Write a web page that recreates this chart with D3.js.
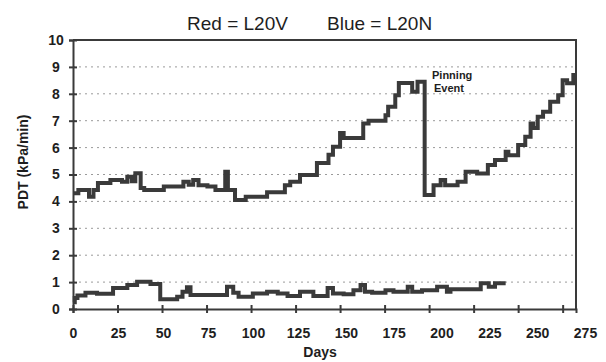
<!DOCTYPE html>
<html>
<head>
<meta charset="utf-8">
<style>
  body { margin: 0; background: #fff; }
  svg text { font-family: "Liberation Sans", Arial, sans-serif; fill: #1e1e1e; }
</style>
</head>
<body>
<svg id="chart" width="606" height="362"></svg>

<script src="https://d3js.org/d3.v7.min.js"></script>
<script>
// upper trace (L20V): day where each step starts, PDT in kPa/min
var l20vDays = [0, 3, 9, 11.5, 14, 21, 27.5, 30.5, 33, 35, 38, 40, 51, 62, 65, 67.5, 70.5, 75.5, 80, 85.5,
  87, 91, 97, 109, 119, 122, 127.5, 137, 143.5, 146, 150, 152, 163, 166, 175.5, 177, 181, 183, 190.5, 193.5,
  197.5, 202.5, 206.5, 209, 216, 220.5, 227, 233, 237, 243, 244.5, 250, 254, 257, 258.5, 261, 264, 268,
  272.5, 275, 277.5, 281, 282.5];
var l20vPdt = [4.3, 4.42, 4.17, 4.42, 4.68, 4.8, 4.73, 4.92, 4.75, 5.05, 4.5, 4.42, 4.55, 4.73, 4.62, 4.8, 4.6, 4.55, 4.42, 5.1,
  4.42, 4.05, 4.17, 4.34, 4.6, 4.73, 4.98, 5.43, 5.73, 6.03, 6.54, 6.36, 6.9, 7.0, 7.2, 7.52, 7.95, 8.4, 8.08, 8.45,
  4.24, 4.6, 4.8, 4.6, 4.73, 5.1, 5.04, 5.35, 5.54, 5.85, 5.72, 6.1, 6.4, 6.9, 6.73, 7.15, 7.33, 7.7,
  7.95, 8.5, 8.39, 8.7, 8.7];

// lower trace (L20N)
var l20nDays = [0, 1, 2.5, 7, 13.5, 22.5, 30.5, 36, 43.5, 49, 58.5, 61.5, 64, 66, 86.5, 90, 93, 101, 109, 115,
  120.5, 127.5, 135, 143, 146, 152, 157.5, 161.5, 164, 168, 175.5, 180, 188, 190.5, 196, 204.5, 210, 212,
  229, 233.5, 237, 243];
var l20nPdt = [0.25, 0.41, 0.5, 0.6, 0.57, 0.78, 0.89, 1.01, 0.93, 0.36, 0.46, 0.64, 0.81, 0.52, 0.83, 0.6, 0.46, 0.58, 0.64, 0.58,
  0.48, 0.64, 0.48, 0.78, 0.58, 0.55, 0.7, 0.89, 0.64, 0.6, 0.7, 0.64, 0.83, 0.64, 0.7, 0.83, 0.64, 0.73,
  0.96, 0.83, 0.96, 0.96];

var dayTicks = [0, 25, 50, 75, 100, 125, 150, 175, 200, 225, 250, 275];
var pdtTicks = [0, 1, 2, 3, 4, 5, 6, 7, 8, 9, 10];
var gridLevels = [1, 2, 3, 4, 5, 6, 7, 8, 9];

var svg = d3.select("#chart");
var ink = "#3a3a3a";

var x = d3.scaleLinear().domain([0, 282.5]).range([73, 576]);
var y = d3.scaleLinear().domain([0, 10]).range([309, 40]);
// the day labels on the scan drift right of their tick marks
var xLabel = d3.scaleLinear().domain([0, 125, 275]).range([73, 298, 585]);

// dotted grid
svg.append("g")
    .selectAll("line")
    .data(gridLevels)
    .join("line")
    .attr("x1", x(0))
    .attr("x2", x(282.5))
    .attr("y1", d => y(d))
    .attr("y2", d => y(d))
    .attr("stroke", "#9a9a9a")
    .attr("stroke-width", 1)
    .attr("stroke-dasharray", "2,4");

// frame top and right
svg.append("path")
    .attr("d", "M" + x(0) + "," + y(10) + "H" + x(282.5) + "V" + y(0))
    .attr("fill", "none")
    .attr("stroke", ink)
    .attr("stroke-width", 2);

// y axis
var yAxis = svg.append("g")
    .attr("transform", "translate(" + x(0) + ",0)")
    .call(d3.axisLeft(y).tickValues(pdtTicks).tickSizeOuter(0).tickSize(4));
yAxis.select(".domain").attr("stroke", ink).attr("stroke-width", 2);
yAxis.selectAll(".tick line").attr("x1", 4).attr("x2", -4).attr("stroke", ink).attr("stroke-width", 2);
yAxis.selectAll(".tick text")
    .attr("x", -17)
    .attr("text-anchor", "middle")
    .style("font-size", "14px")
    .style("font-weight", "bold");

// x axis
var xAxis = svg.append("g")
    .attr("transform", "translate(0," + y(0) + ")")
    .call(d3.axisBottom(x).tickValues(dayTicks).tickSizeOuter(0).tickSize(4));
xAxis.select(".domain").attr("stroke", ink).attr("stroke-width", 2);
xAxis.selectAll(".tick line").attr("y1", -4).attr("y2", 4).attr("stroke", ink).attr("stroke-width", 2);
xAxis.selectAll(".tick text")
    .attr("x", d => xLabel(d) - x(d))
    .attr("y", 29)
    .attr("dy", null)
    .style("font-size", "14px")
    .style("font-weight", "bold");

// traces
var line = d3.line()
    .x(d => x(d[0]))
    .y(d => y(d[1]))
    .curve(d3.curveStepAfter);

svg.append("path")
    .datum(d3.zip(l20vDays, l20vPdt))
    .attr("fill", "none")
    .attr("stroke", ink)
    .attr("stroke-width", 4)
    .attr("d", line);

svg.append("path")
    .datum(d3.zip(l20nDays, l20nPdt))
    .attr("fill", "none")
    .attr("stroke", ink)
    .attr("stroke-width", 4)
    .attr("d", line);

// titles
svg.append("text").attr("x", 187).attr("y", 30).style("font-size", "19px").text("Red = L20V");
svg.append("text").attr("x", 327).attr("y", 30).style("font-size", "19px").text("Blue = L20N");

svg.append("text")
    .attr("transform", "translate(28,162) rotate(-90)")
    .attr("text-anchor", "middle")
    .style("font-size", "14px")
    .style("font-weight", "bold")
    .text("PDT (kPa/min)");

svg.append("text")
    .attr("x", 320)
    .attr("y", 357)
    .attr("text-anchor", "middle")
    .style("font-size", "14px")
    .style("font-weight", "bold")
    .text("Days");

svg.append("text").attr("x", 432).attr("y", 79).style("font-size", "11px").style("font-weight", "bold").text("Pinning");
svg.append("text").attr("x", 434).attr("y", 92).style("font-size", "11px").style("font-weight", "bold").text("Event");
</script>
</body>
</html>
